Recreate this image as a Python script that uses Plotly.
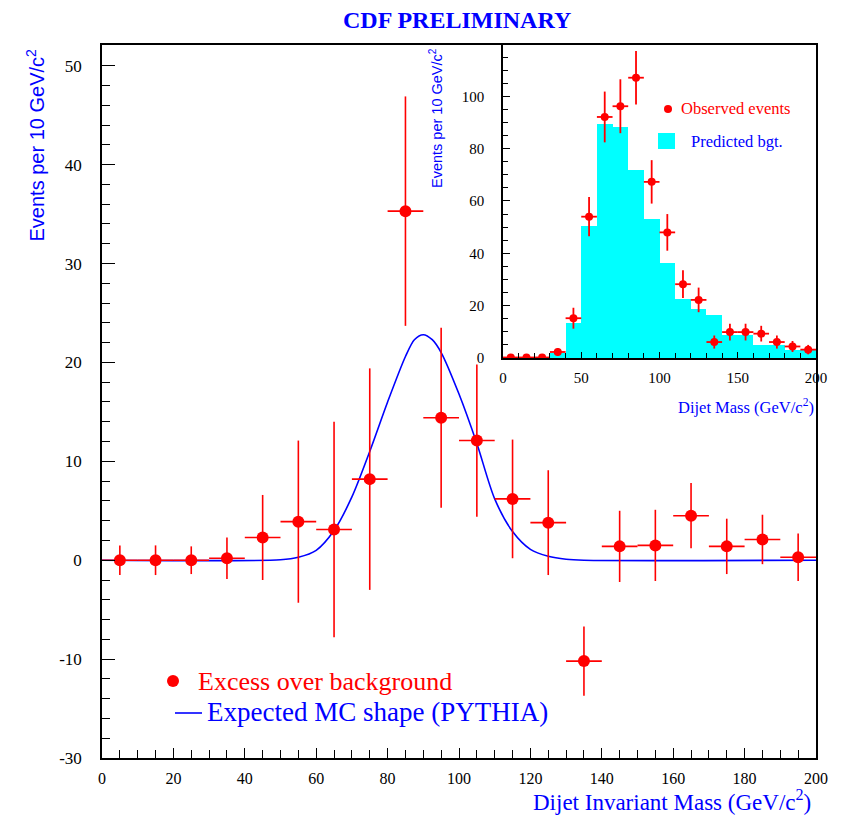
import plotly.graph_objects as go

# ---------------- data ----------------
mass_bins = [5, 15, 25, 35, 45, 55, 65, 75, 85, 95, 105, 115, 125, 135, 145, 155, 165, 175, 185, 195]

# main plot: excess over background
excess = [0.0, 0.0, 0.0, 0.2, 2.3, 3.9, 3.1, 8.2, 35.3, 14.4, 12.1, 6.2, 3.8, -10.2, 1.4, 1.5, 4.5, 1.4, 2.1, 0.3]
excess_err = [1.5, 1.5, 1.4, 2.1, 4.3, 8.2, 10.9, 11.2, 11.6, 9.1, 7.7, 6.0, 5.3, 3.5, 3.6, 3.6, 3.3, 2.8, 2.5, 2.4]

# expected MC shape (PYTHIA)
mc_mass = [0, 50, 55, 60, 65, 70, 75, 80, 85, 87.5, 90, 92.5, 95, 100, 105, 110, 115, 120, 125, 130, 135, 200]
mc_value = [0.0, 0.05, 0.3, 1.0, 3.0, 6.4, 11.0, 16.0, 20.6, 22.3, 22.8, 22.3, 21.0, 16.8, 11.8, 6.2, 2.9, 1.1, 0.4, 0.1, 0.0, 0.0]

# inset: observed events and predicted background
observed = [0.2, 0.2, 0.2, 2.3, 15.2, 54.0, 92.1, 96.2, 107.1, 67.3, 48.0, 28.2, 22.2, 6.1, 9.9, 9.9, 9.3, 6.1, 4.4, 3.2]
observed_err = [0.5, 0.5, 0.5, 1.5, 4.0, 7.5, 9.7, 10.3, 10.2, 8.3, 7.0, 5.3, 4.7, 2.5, 3.2, 3.2, 3.0, 2.5, 2.1, 1.8]
background = [0.0, 0.0, 0.0, 1.9, 13.3, 50.4, 89.6, 88.3, 72.0, 53.1, 36.2, 22.5, 18.7, 16.5, 8.9, 8.9, 5.1, 5.1, 3.2, 3.2]

main_ytick_vals = [-20, -10, 0, 10, 20, 30, 40, 50]
main_ytick_text = ["-30", "-10", "0", "10", "20", "30", "40", "50"]

# ---------------- figure ----------------
W, H = 841, 818
RED = "#ff0000"
BLUE = "#0000ff"
SERIF = "Liberation Serif"
SANS = "Liberation Sans"


def px(x):
    return x / W


def py(y):
    return 1 - y / H


fig = go.Figure()

fig.add_trace(go.Scatter(
    x=mc_mass, y=mc_value, mode="lines",
    line=dict(color=BLUE, width=1.6, shape="spline", smoothing=0.8),
    xaxis="x", yaxis="y", hoverinfo="skip"))

fig.add_trace(go.Scatter(
    x=mass_bins, y=excess, mode="markers",
    marker=dict(color=RED, size=12, symbol="circle"),
    error_y=dict(type="data", array=excess_err, color=RED, thickness=1.6, width=0),
    error_x=dict(type="constant", value=5, color=RED, thickness=1.6, width=0),
    xaxis="x", yaxis="y"))

fig.add_trace(go.Bar(
    x=mass_bins, y=background, width=10,
    marker=dict(color="#00ffff", line=dict(width=0)),
    xaxis="x2", yaxis="y2"))

fig.add_trace(go.Scatter(
    x=mass_bins, y=observed, mode="markers",
    marker=dict(color=RED, size=8, symbol="circle"),
    error_y=dict(type="data", array=observed_err, color=RED, thickness=1.8, width=0),
    error_x=dict(type="constant", value=5, color=RED, thickness=1.8, width=0),
    xaxis="x2", yaxis="y2"))

axis_common = dict(showgrid=False, zeroline=False, linecolor="black", linewidth=1.5,
                   ticks="inside", tickcolor="black", tickwidth=1.2, automargin=False)

fig.update_layout(
    width=W, height=H, autosize=False,
    margin=dict(l=0, r=0, t=0, b=0, pad=0),
    paper_bgcolor="white", plot_bgcolor="white",
    showlegend=False, bargap=0,
    font=dict(family=SERIF, color="black"),
    xaxis=dict(domain=[px(102), px(816)], range=[0, 200], anchor="y",
               showline=True, mirror=True, dtick=20, tick0=0, ticklen=10,
               minor=dict(ticks="inside", dtick=5, ticklen=8, tickcolor="black", tickwidth=1.2),
               tickfont=dict(family=SERIF, size=16), ticklabelstandoff=5,
               **axis_common),
    yaxis=dict(domain=[py(758), py(45)], range=[-20, 52.1], anchor="x",
               showline=True, mirror=True, tickmode="array",
               tickvals=main_ytick_vals, ticktext=main_ytick_text, ticklen=13,
               minor=dict(ticks="inside", tickmode="array",
                          tickvals=[v for v in range(-20, 53, 2)],
                          ticklen=8, tickcolor="black", tickwidth=1.2),
               tickfont=dict(family=SERIF, size=17), ticklabelstandoff=15,
               **axis_common),
    xaxis2=dict(domain=[px(503), px(816)], range=[0, 200], anchor="y2",
                showline=True, mirror=False, dtick=50, tick0=0, ticklen=6,
                minor=dict(ticks="inside", dtick=10, ticklen=5, tickcolor="black", tickwidth=1.2),
                tickfont=dict(family=SERIF, size=15), ticklabelstandoff=5,
                **axis_common),
    yaxis2=dict(domain=[py(358), py(45)], range=[0, 119.6], anchor="x2",
                showline=True, mirror=False, dtick=20, tick0=0, ticklen=7,
                minor=dict(ticks="inside", dtick=5, ticklen=5, tickcolor="black", tickwidth=1.2),
                tickfont=dict(family=SERIF, size=15), ticklabelstandoff=14,
                **axis_common),
)

annotations = [
    dict(text="<b>CDF PRELIMINARY</b>", x=px(457), y=py(20), xanchor="center", yanchor="middle",
         font=dict(family=SERIF, size=24, color=BLUE)),
    dict(text="Events per 10 GeV/c<sup>2</sup>", textangle=-90, x=px(35), y=py(47),
         xanchor="center", yanchor="top", font=dict(family=SANS, size=20, color=BLUE)),
    dict(text="Dijet Invariant Mass (GeV/c<sup>2</sup>)", x=px(813), y=py(800),
         xanchor="right", yanchor="middle", font=dict(family=SERIF, size=23, color=BLUE)),
    dict(text="Events per 10 GeV/c<sup>2</sup>", textangle=-90, x=px(436), y=py(46),
         xanchor="center", yanchor="top", font=dict(family=SANS, size=14.5, color=BLUE)),
    dict(text="Dijet Mass (GeV/c<sup>2</sup>)", x=px(816), y=py(407),
         xanchor="right", yanchor="middle", font=dict(family=SERIF, size=16.5, color=BLUE)),
    dict(text="Excess over background", x=px(196), y=py(681), xanchor="left", yanchor="middle",
         font=dict(family=SERIF, size=26, color=RED)),
    dict(text="Expected MC shape (PYTHIA)", x=px(205), y=py(712), xanchor="left", yanchor="middle",
         font=dict(family=SERIF, size=27, color=BLUE)),
    dict(text="Observed events", x=px(679), y=py(109), xanchor="left", yanchor="middle",
         font=dict(family=SERIF, size=16.5, color=RED)),
    dict(text="Predicted bgt.", x=px(689), y=py(142), xanchor="left", yanchor="middle",
         font=dict(family=SERIF, size=16.5, color=BLUE)),
]
for a in annotations:
    a.update(xref="paper", yref="paper", showarrow=False)
fig.update_layout(annotations=annotations)

shapes = [
    # main legend symbols
    dict(type="circle", x0=px(167), x1=px(179), y0=py(687), y1=py(675),
         fillcolor=RED, line=dict(color=RED, width=0)),
    dict(type="line", x0=px(175), x1=px(202), y0=py(713), y1=py(713),
         line=dict(color=BLUE, width=1.6)),
    # inset legend symbols
    dict(type="circle", x0=px(664), x1=px(672), y0=py(113), y1=py(105),
         fillcolor=RED, line=dict(color=RED, width=0)),
    dict(type="rect", x0=px(658), x1=px(675), y0=py(149), y1=py(133),
         fillcolor="#00ffff", line=dict(color="#00ffff", width=0)),
]
for s in shapes:
    s.update(xref="paper", yref="paper")
fig.update_layout(shapes=shapes)

fig.write_html(
    "out.html",
    config={"displayModeBar": False},
    post_script="document.body.style.margin='0';document.body.style.padding='0';",
)
